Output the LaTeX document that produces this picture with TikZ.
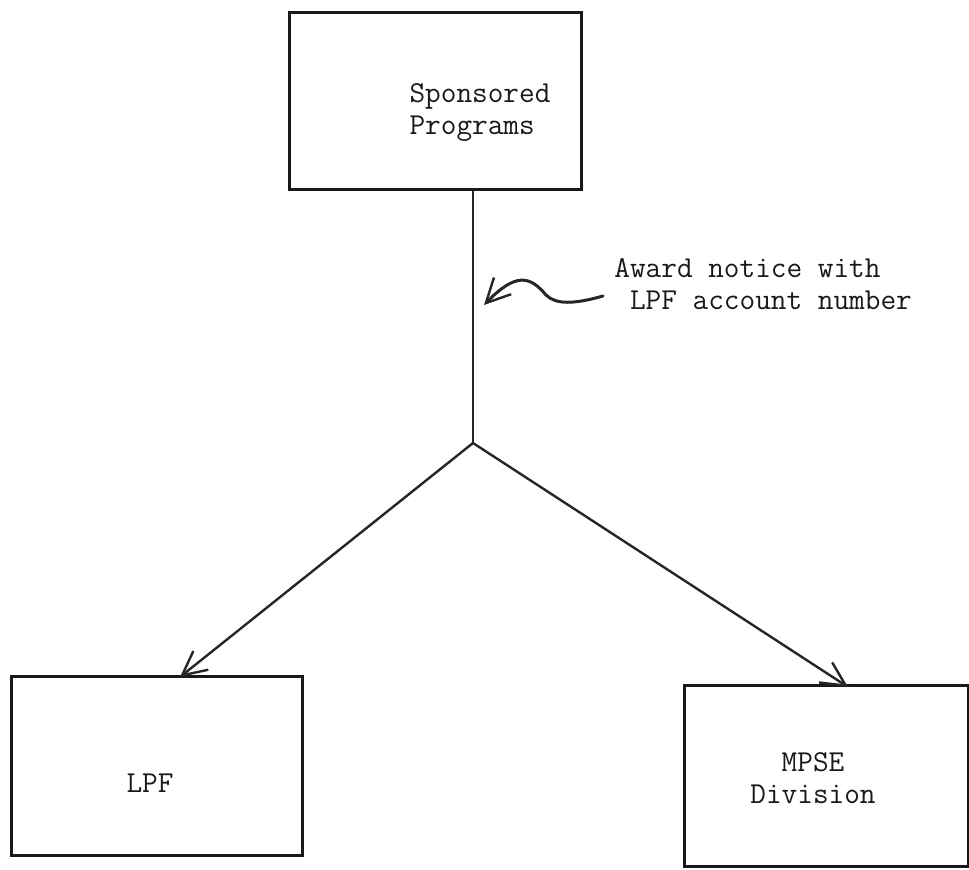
\documentclass[tikz,border=0pt]{standalone}
\usetikzlibrary{arrows.meta}
\begin{document}
\begin{tikzpicture}[x=0.5pt,y=-0.5pt,
  box/.style={draw, line width=1.5pt, rectangle, inner sep=0pt, draw=black!90},
  lbl/.style={font=\ttfamily\fontsize{15.2}{16}\selectfont, inner sep=0pt, align=left, text=black!90},
  conn/.style={line width=1.2pt, draw=black!85},
  tip/.style={-{Straight Barb[length=12pt,width=12pt,line width=1.2pt]}}
]
\useasboundingbox (0,0) rectangle (969,869);
% boxes
\node[box, minimum width=146pt, minimum height=88.5pt] (sp) at (435,100.5) {};
\node[box, minimum width=145.5pt, minimum height=89.5pt] (lpf) at (156.5,765.5) {};
\node[box, minimum width=142pt, minimum height=90.5pt] (mpse) at (826,775.5) {};
% texts
\node[lbl] (sptext) at (480,113) {Sponsored\\Programs};
\node[lbl] (lpftext) at (150,783) {LPF};
\node[lbl, align=center] (mpsetext) at (813,778) {MPSE\\Division};
\node[lbl, anchor=west] (award) at (614,284) {Award notice with\\\hphantom{X}LPF account number};
% connectors
\coordinate (j) at (473,443);
\coordinate (lpftop) at (180,677);
\coordinate (mpsetop) at (848,687);
\draw[conn] (sp.south -| j) -- (j);
\draw[conn, tip] (j) -- (lpftop);
\draw[conn, tip] (j) -- (mpsetop);
% wavy arrow
\coordinate (wtail) at (603,296);
\coordinate (wtip) at (484,305);
\draw[conn, line width=1.5pt, line cap=round, tip] (wtail) .. controls (575,304) and (556,305) .. (546,295)
  .. controls (530,276) and (516,272) .. (wtip);
\end{tikzpicture}
\end{document}
